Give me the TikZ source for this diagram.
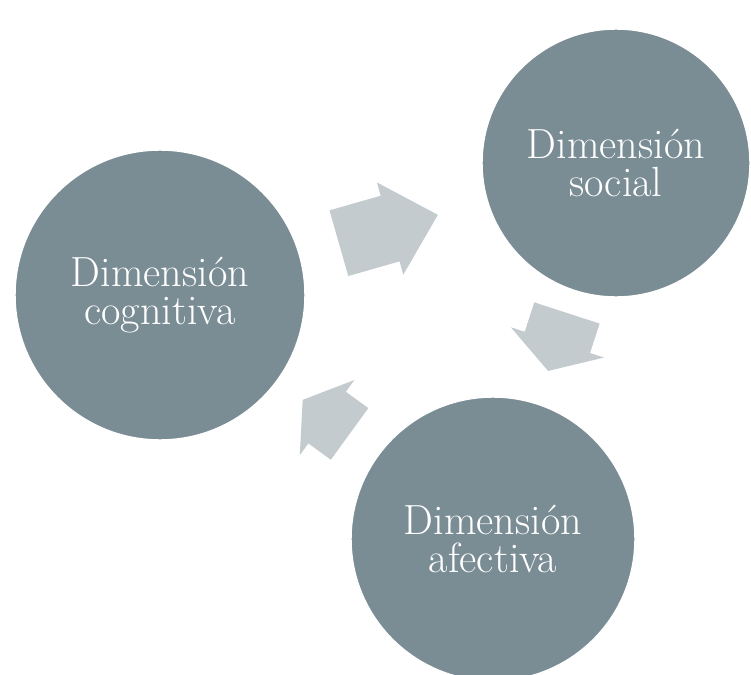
\documentclass[tikz,border=0pt]{standalone}
\usetikzlibrary{shapes.arrows,calc}
\definecolor{dimgris}{RGB}{122,140,148}
\definecolor{flechagris}{RGB}{196,203,207}

\begin{document}
\begin{tikzpicture}[x=0.02cm,y=0.02cm,
		dimension/.style={circle,fill=dimgris,draw=white,line width=.8pt,text=white,align=center,inner sep=0pt,font=\fontsize{24}{22}\selectfont},
		flecha/.style={single arrow,fill=flechagris,draw=none,inner xsep=0pt,anchor=tail}]
	\useasboundingbox (0,0) rectangle (751,674);
	% los tres circulos
	\node[dimension,minimum size=5.8cm] (cog) at (160,379) {Dimensión\\cognitiva};
	\node[dimension,minimum size=5.36cm] (soc) at (616,511) {Dimensión\\social};
	\node[dimension,minimum size=5.68cm] (afe) at (493,135) {Dimensión\\afectiva};
	% flechas entre circulos
	\node[flecha,rotate=16,minimum height=2.06cm,minimum width=1.92cm,inner ysep=.61cm,single arrow tip angle=88] (f1) at ($(cog)!.5!(soc)!-1.03cm!(soc)$) {};
	\node[flecha,rotate=-108,minimum height=1.22cm,minimum width=1.96cm,inner ysep=.58cm,single arrow tip angle=117] (f2) at ($(soc)!.475!(afe)!-.61cm!(afe)$) {};
	\node[flecha,rotate=144,minimum height=1.16cm,minimum width=1.86cm,inner ysep=.54cm,single arrow tip angle=114] (f3) at ($(afe)!.5!(cog)!-.58cm!(cog)$) {};
\end{tikzpicture}
\end{document}
